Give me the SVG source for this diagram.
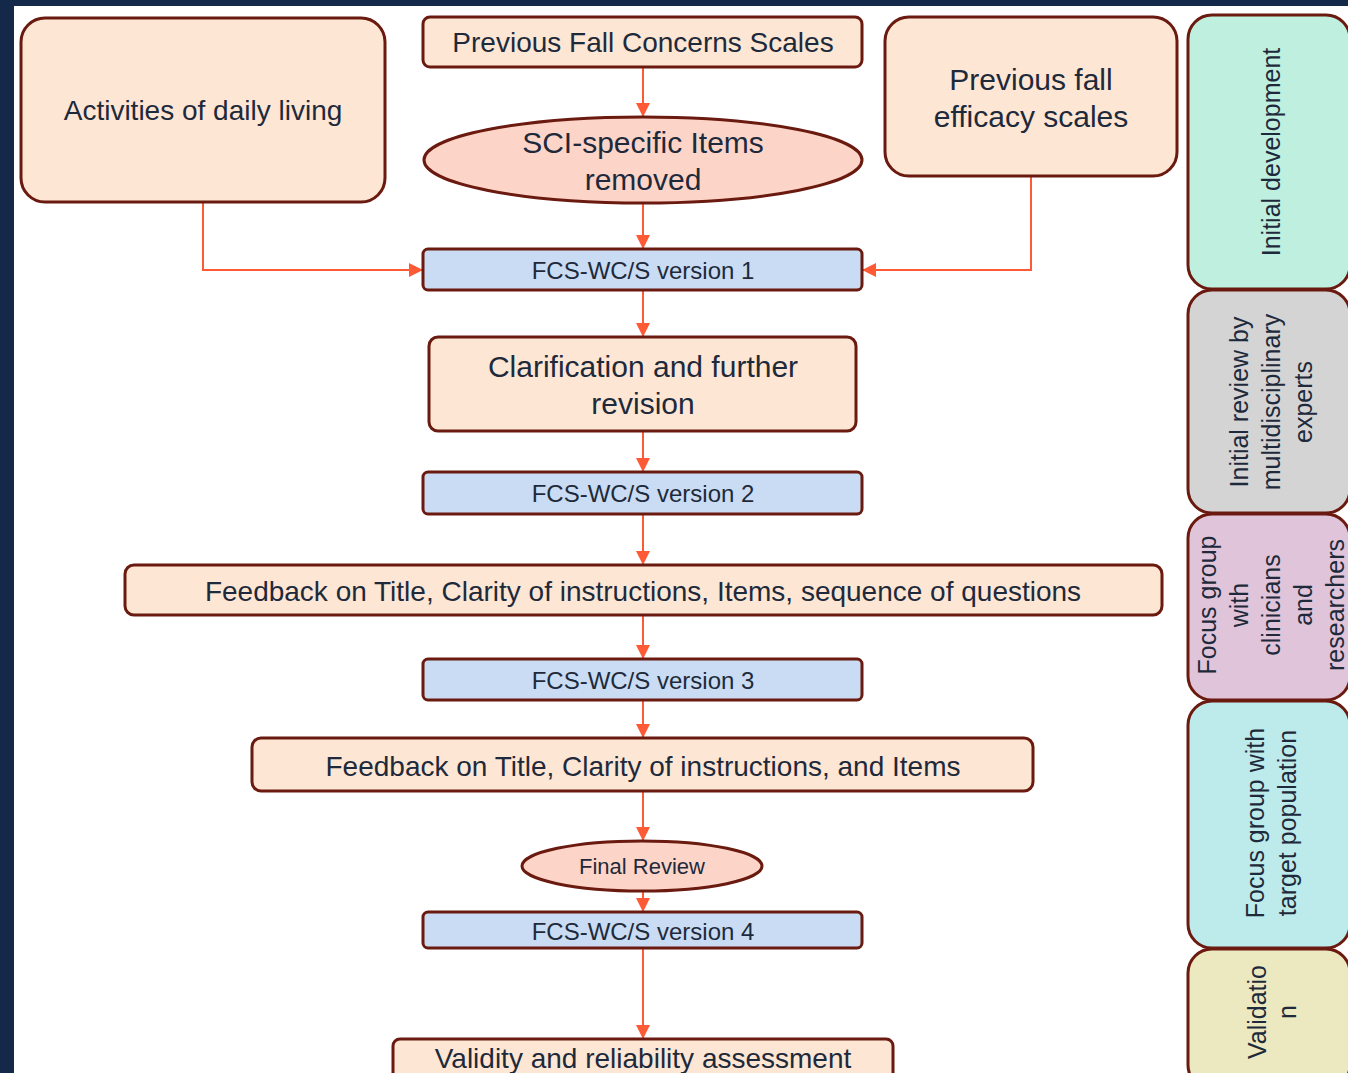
<svg xmlns="http://www.w3.org/2000/svg" width="1348" height="1073" viewBox="0 0 1348 1073">
<style>
text{font-family:"Liberation Sans",Arial,sans-serif;fill:#1e2a3b;text-anchor:middle}
.pe{fill:#fde6d3;stroke:#6b1a10;stroke-width:3}
.el{fill:#fcd5c8;stroke:#6b1a10;stroke-width:3}
.bl{fill:#c9dcf3;stroke:#6b1a10;stroke-width:3}
.sd{stroke:#6b1a10;stroke-width:3}
.c{fill:none;stroke:#ff5a36;stroke-width:2;marker-end:url(#ah)}
.f28{font-size:28px}.f30{font-size:30px}.f24{font-size:24px}.f22{font-size:22px}.f25{font-size:25px}
</style>
<defs>
<marker id="ah" viewBox="0 0 10 10" refX="10" refY="5" markerWidth="14" markerHeight="14" markerUnits="userSpaceOnUse" orient="auto">
<path d="M0,0 L10,5 L0,10 z" fill="#ff5a36"/>
</marker>
</defs>
<rect x="0" y="0" width="1348" height="1073" fill="#14284a"/>
<rect x="14" y="6" width="1334" height="1067" fill="#ffffff"/>

<g id="connectors">
<path class="c" d="M643,67 V117"/>
<path class="c" d="M643,203 V249"/>
<path class="c" d="M203,202 V270 H423"/>
<path class="c" d="M1031,176 V270 H862"/>
<path class="c" d="M643,290 V337"/>
<path class="c" d="M643,431 V472"/>
<path class="c" d="M643,514 V565"/>
<path class="c" d="M643,615 V659"/>
<path class="c" d="M643,700 V738"/>
<path class="c" d="M643,791 V841"/>
<path class="c" d="M643,891 V912"/>
<path class="c" d="M643,948 V1039"/>
</g>

<g id="adl"><rect class="pe" x="21" y="18" width="364" height="184" rx="24"/><text class="f28" x="203" y="120">Activities of daily living</text></g>
<g id="pfcs"><rect class="pe" x="423" y="17" width="439" height="50" rx="7"/><text class="f28" x="643" y="52">Previous Fall Concerns Scales</text></g>
<g id="sci"><ellipse class="el" cx="643" cy="160" rx="219" ry="43"/><text class="f30" x="643" y="153">SCI-specific Items</text><text class="f30" x="643" y="190">removed</text></g>
<g id="pfes"><rect class="pe" x="885" y="17" width="292" height="159" rx="24"/><text class="f30" x="1031" y="90">Previous fall</text><text class="f30" x="1031" y="127">efficacy scales</text></g>
<g id="v1"><rect class="bl" x="423" y="249" width="439" height="41" rx="5"/><text class="f24" x="643" y="279">FCS-WC/S version 1</text></g>
<g id="clar"><rect class="pe" x="429" y="337" width="427" height="94" rx="9"/><text class="f30" x="643" y="377">Clarification and further</text><text class="f30" x="643" y="414">revision</text></g>
<g id="v2"><rect class="bl" x="423" y="472" width="439" height="42" rx="5"/><text class="f24" x="643" y="502">FCS-WC/S version 2</text></g>
<g id="fb1"><rect class="pe" x="125" y="565" width="1037" height="50" rx="9"/><text class="f28" x="643" y="601">Feedback on Title, Clarity of instructions, Items, sequence of questions</text></g>
<g id="v3"><rect class="bl" x="423" y="659" width="439" height="41" rx="5"/><text class="f24" x="643" y="689">FCS-WC/S version 3</text></g>
<g id="fb2"><rect class="pe" x="252" y="738" width="781" height="53" rx="9"/><text class="f28" x="643" y="776">Feedback on Title, Clarity of instructions, and Items</text></g>
<g id="final"><ellipse class="el" cx="642" cy="866" rx="120" ry="25"/><text class="f22" x="642" y="874">Final Review</text></g>
<g id="v4"><rect class="bl" x="423" y="912" width="439" height="36" rx="5"/><text class="f24" x="643" y="940">FCS-WC/S version 4</text></g>
<g id="valid"><rect class="pe" x="393" y="1039" width="500" height="50" rx="7"/><text class="f28" x="643" y="1068">Validity and reliability assessment</text></g>

<g id="s1"><rect class="sd" fill="#bff0df" x="1188" y="15" width="162" height="274" rx="24"/>
<text class="f25" transform="translate(1271,152) rotate(-90)" y="9">Initial development</text></g>
<g id="s2"><rect class="sd" fill="#d4d4d4" x="1188" y="290" width="162" height="223" rx="24"/>
<g transform="translate(1271,402) rotate(-90)"><text class="f25" y="-23">Initial review by</text><text class="f25" y="9">multidisciplinary</text><text class="f25" y="41">experts</text></g></g>
<g id="s3"><rect class="sd" fill="#e0c5da" x="1188" y="514" width="162" height="186" rx="24"/>
<g transform="translate(1271,605) rotate(-90)"><text class="f25" y="-55">Focus group</text><text class="f25" y="-23">with</text><text class="f25" y="9">clinicians</text><text class="f25" y="41">and</text><text class="f25" y="73">researchers</text></g></g>
<g id="s4"><rect class="sd" fill="#bdeaea" x="1188" y="701" width="162" height="247" rx="24"/>
<g transform="translate(1271,823) rotate(-90)"><text class="f25" y="-7">Focus group with</text><text class="f25" y="25">target population</text></g></g>
<g id="s5"><rect class="sd" fill="#ece8c0" x="1188" y="949" width="162" height="140" rx="24"/>
<g transform="translate(1271,1012) rotate(-90)"><text class="f25" y="-5">Validatio</text><text class="f25" y="25">n</text></g></g>
</svg>
